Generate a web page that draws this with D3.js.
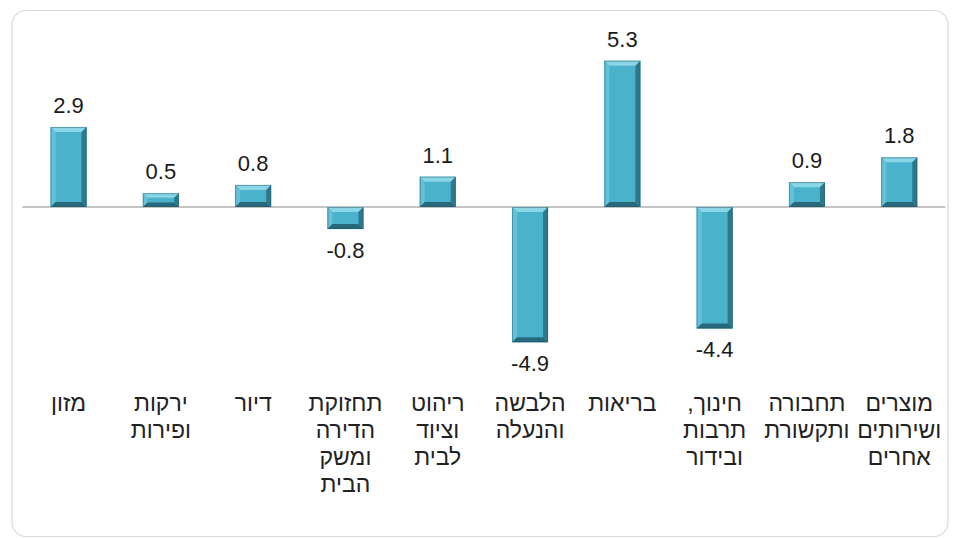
<!DOCTYPE html>
<html>
<head>
<meta charset="utf-8">
<script src="https://cdn.jsdelivr.net/npm/d3@7"></script>
<style>
  html, body { margin: 0; padding: 0; background: #fff; }
  svg { display: block; font-family: "Liberation Sans", Arial, sans-serif; }
</style>
</head>
<body>
<div id="chart"></div>
<script>
// categories (lines split by "|"), values
var categories = [
  "מזון",
  "ירקות|ופירות",
  "דיור",
  "תחזוקת|הדירה|ומשק|הבית",
  "ריהוט|וציוד|לבית",
  "הלבשה|והנעלה",
  "בריאות",
  "חינוך,|תרבות|ובידור",
  "תחבורה|ותקשורת",
  "מוצרים|ושירותים|אחרים"
];
var values = [2.9, 0.5, 0.8, -0.8, 1.1, -4.9, 5.3, -4.4, 0.9, 1.8];

var width = 955, height = 538;

var svg = d3.select("#chart").append("svg")
  .attr("width", width)
  .attr("height", height);

// frame
svg.append("rect")
  .attr("x", 12).attr("y", 10.5)
  .attr("width", 936).attr("height", 526)
  .attr("rx", 14).attr("ry", 14)
  .attr("fill", "#fff")
  .attr("stroke", "#d9d9d9")
  .attr("stroke-width", 1.2);

// scales
var x = d3.scaleBand()
  .domain(d3.range(values.length))
  .range([22.4, 945.4])
  .paddingInner(0.61)
  .paddingOuter(0.305);

var y = d3.scaleLinear()
  .domain([-6, 6])
  .range([372.6, 41.4]);

// zero line
svg.append("line")
  .attr("x1", x.range()[0]).attr("x2", x.range()[1])
  .attr("y1", y(0)).attr("y2", y(0))
  .attr("stroke", "#8a8a8a")
  .attr("stroke-width", 1.2);

// bars with bevel
var bars = svg.append("g").selectAll("g")
  .data(values)
  .enter().append("g");

bars.each(function(d, i) {
  var g = d3.select(this);
  var x0 = x(i), x1 = x(i) + x.bandwidth();
  var y0 = Math.min(y(d), y(0)), y1 = Math.max(y(d), y(0));
  var h = y1 - y0;
  var b = Math.min(5, h / 3);

  g.append("rect")
    .attr("x", x0).attr("y", y0)
    .attr("width", x1 - x0).attr("height", h)
    .attr("fill", "#4ab2ca");

  function poly(pts, fill) {
    g.append("polygon")
      .attr("points", pts.map(function(p) { return p.join(","); }).join(" "))
      .attr("fill", fill);
  }
  // top
  poly([[x0, y0], [x1, y0], [x1 - b, y0 + b], [x0 + b, y0 + b]], "#8ad5e6");
  // left
  poly([[x0, y0], [x0 + b, y0 + b], [x0 + b, y1 - b], [x0, y1]], "#62c2d8");
  // right
  poly([[x1, y0], [x1, y1], [x1 - b, y1 - b], [x1 - b, y0 + b]], "#2f788b");
  // bottom
  poly([[x0, y1], [x1, y1], [x1 - b, y1 - b], [x0 + b, y1 - b]], "#27697b");

  g.append("rect")
    .attr("x", x0 + 0.5).attr("y", y0 + 0.5)
    .attr("width", x1 - x0 - 1).attr("height", h - 1)
    .attr("fill", "none")
    .attr("stroke", "#1f5a69")
    .attr("stroke-opacity", 0.45)
    .attr("stroke-width", 1);
});

// value labels
svg.append("g").selectAll("text")
  .data(values)
  .enter().append("text")
  .attr("x", function(d, i) { return x(i) + x.bandwidth() / 2; })
  .attr("y", function(d) { return d >= 0 ? y(d) - 14 : y(d) + 29; })
  .attr("text-anchor", "middle")
  .attr("font-size", 22)
  .attr("fill", "#1a1a1a")
  .text(function(d) { return d.toFixed(1); });

// category labels
var cat = svg.append("g").selectAll("text")
  .data(categories)
  .enter().append("text")
  .attr("text-anchor", "middle")
  .attr("direction", "rtl")
  .attr("font-size", 23)
  .attr("fill", "#222");

cat.each(function(c, i) {
  var t = d3.select(this);
  c.split("|").forEach(function(line, k) {
    t.append("tspan")
      .attr("x", x(i) + x.bandwidth() / 2)
      .attr("y", 411 + k * 27)
      .text(line);
  });
});
</script>
</body>
</html>
